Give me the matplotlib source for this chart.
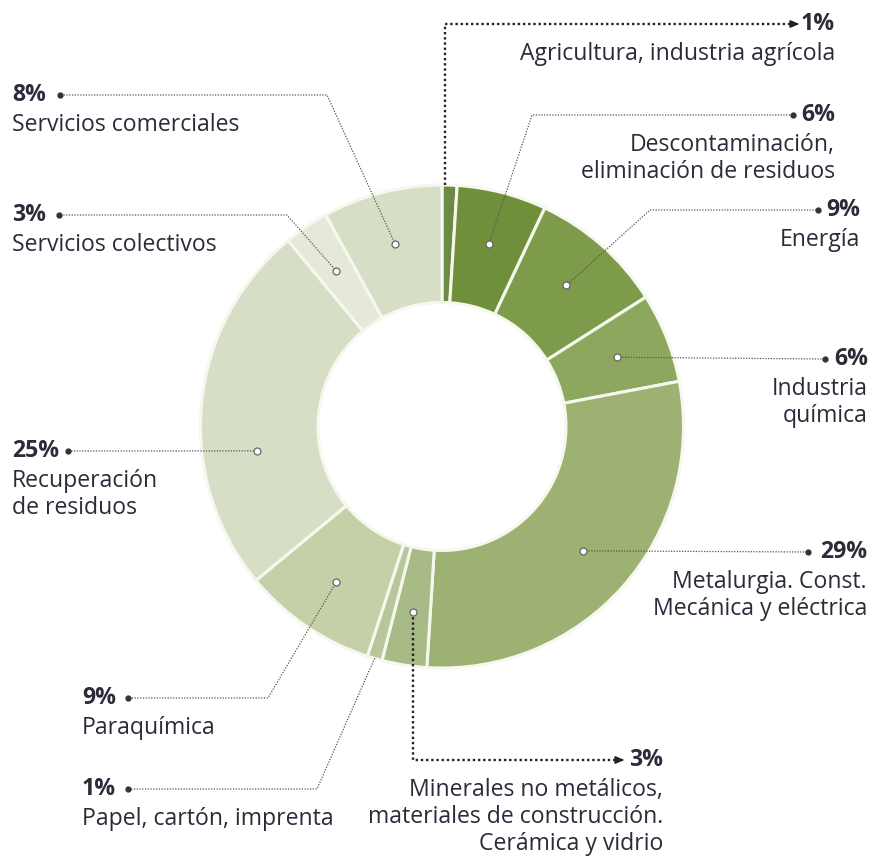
import numpy as np
import matplotlib
matplotlib.use("Agg")
import matplotlib.pyplot as plt

# data (clockwise from 12 o'clock)
sectors = ["Agricultura, industria agrícola",
           "Descontaminación,\neliminación de residuos",
           "Energía",
           "Industria\nquímica",
           "Metalurgia. Const.\nMecánica y eléctrica",
           "Minerales no metálicos,\nmateriales de construcción.\nCerámica y vidrio",
           "Papel, cartón, imprenta",
           "Paraquímica",
           "Recuperación\nde residuos",
           "Servicios colectivos",
           "Servicios comerciales"]
shares = [1, 6, 9, 6, 29, 3, 1, 9, 25, 3, 8]
colors = ["#6d8a44", "#6f8f3b", "#7e9b4b", "#8ea75f", "#9cb172", "#a8ba86",
          "#b7c69b", "#c4d0a8", "#d6dfc6", "#e4e9da", "#d6dfc6"]

W, H = 874, 864
CX, CY = 442, 426.5          # pie centre in image pixels
R_OUT, R_IN = 241.5, 124

TXT = "#2b2b3a"
LINE = "#555555"
FONT = ["Open Sans", "DejaVu Sans"]
FS = 16.6


def Y(y):
    return H - y


fig = plt.figure(figsize=(W / 100, H / 100), dpi=100)
ax = fig.add_axes([0, 0, 1, 1])

wedges, _ = ax.pie(shares, colors=colors, startangle=90, counterclock=False,
                   radius=R_OUT, center=(CX, Y(CY)),
                   wedgeprops=dict(width=R_OUT - R_IN, edgecolor="#f6f8ee",
                                   linewidth=2.2))
ax.set_xlim(0, W)
ax.set_ylim(0, H)
ax.set_aspect("equal")
ax.axis("off")

# label layout: (side, label x, pct y, elbow, line end x, heavy, anchor radius, angle override)
layout = [
    ("r", 835, 24, "v", 795, True, R_OUT, 89.2),
    ("r", 835, 115, (532, 115), 793, False, 188, None),
    ("r", 860, 210, (650, 210), 818, False, 188, None),
    ("r", 868, 359, None, 825, False, 188, None),
    ("r", 867, 552, None, 808, False, 188, None),
    ("r", 663, 760, "v", 620, True, 188, None),
    ("l", 82, 789, (317, 789), 128, False, R_OUT, None),
    ("l", 82, 698, (268, 698), 128, False, 188, None),
    ("l", 12, 451, None, 68, False, 187, -172.5),
    ("l", 12, 215, (287, 215), 59, False, 188, None),
    ("l", 12, 95, (327, 95), 60, False, 188, None),
]

for w, name, pct, lay in zip(wedges, sectors, shares, layout):
    side, lx, py, elbow, ex, heavy, ra, ang = lay
    if ang is None:
        ang = (w.theta1 + w.theta2) / 2
    ax_x = CX + ra * np.cos(np.radians(ang))
    ax_y = CY - ra * np.sin(np.radians(ang))
    if elbow == "v":
        pts = [(ax_x, ax_y), (ax_x, py), (ex, py)]
    elif elbow is None:
        pts = [(ax_x, ax_y), (ex, py)]
    else:
        pts = [(ax_x, ax_y), elbow, (ex, py)]
    xs = [p[0] for p in pts]
    ys = [Y(p[1]) for p in pts]
    if heavy:
        ax.plot(xs, ys, color="#222222", lw=1.7, ls=(0, (1, 1.2)),
                solid_capstyle="butt", zorder=3)
        ax.annotate("", xy=(xs[-1] + 7, ys[-1]), xytext=(xs[-1] - 2, ys[-1]),
                    arrowprops=dict(arrowstyle="-|>,head_length=0.5,head_width=0.22",
                                    color="#222222", lw=1.2), zorder=4)
    else:
        ax.plot(xs, ys, color=LINE, lw=0.9, ls=(0, (1, 1.2)), zorder=3)
        ax.plot(xs[-1], ys[-1], "o", ms=3.5, color="#333333", zorder=4)
    if ra < R_OUT:
        ax.plot(xs[0], ys[0], "o", ms=5, mfc="white", mec="#666666",
                mew=0.9, zorder=5)

    ha = "right" if side == "r" else "left"
    ax.text(lx, Y(py), f"{pct}%", ha=ha, va="center", fontsize=FS,
            fontweight="bold", color=TXT, family=FONT)
    for i, line in enumerate(name.split("\n")):
        ax.text(lx, Y(py + 30 + 27 * i), line, ha=ha, va="center",
                fontsize=FS, color=TXT, family=FONT)

fig.savefig("out.png", dpi=100, facecolor="white")
